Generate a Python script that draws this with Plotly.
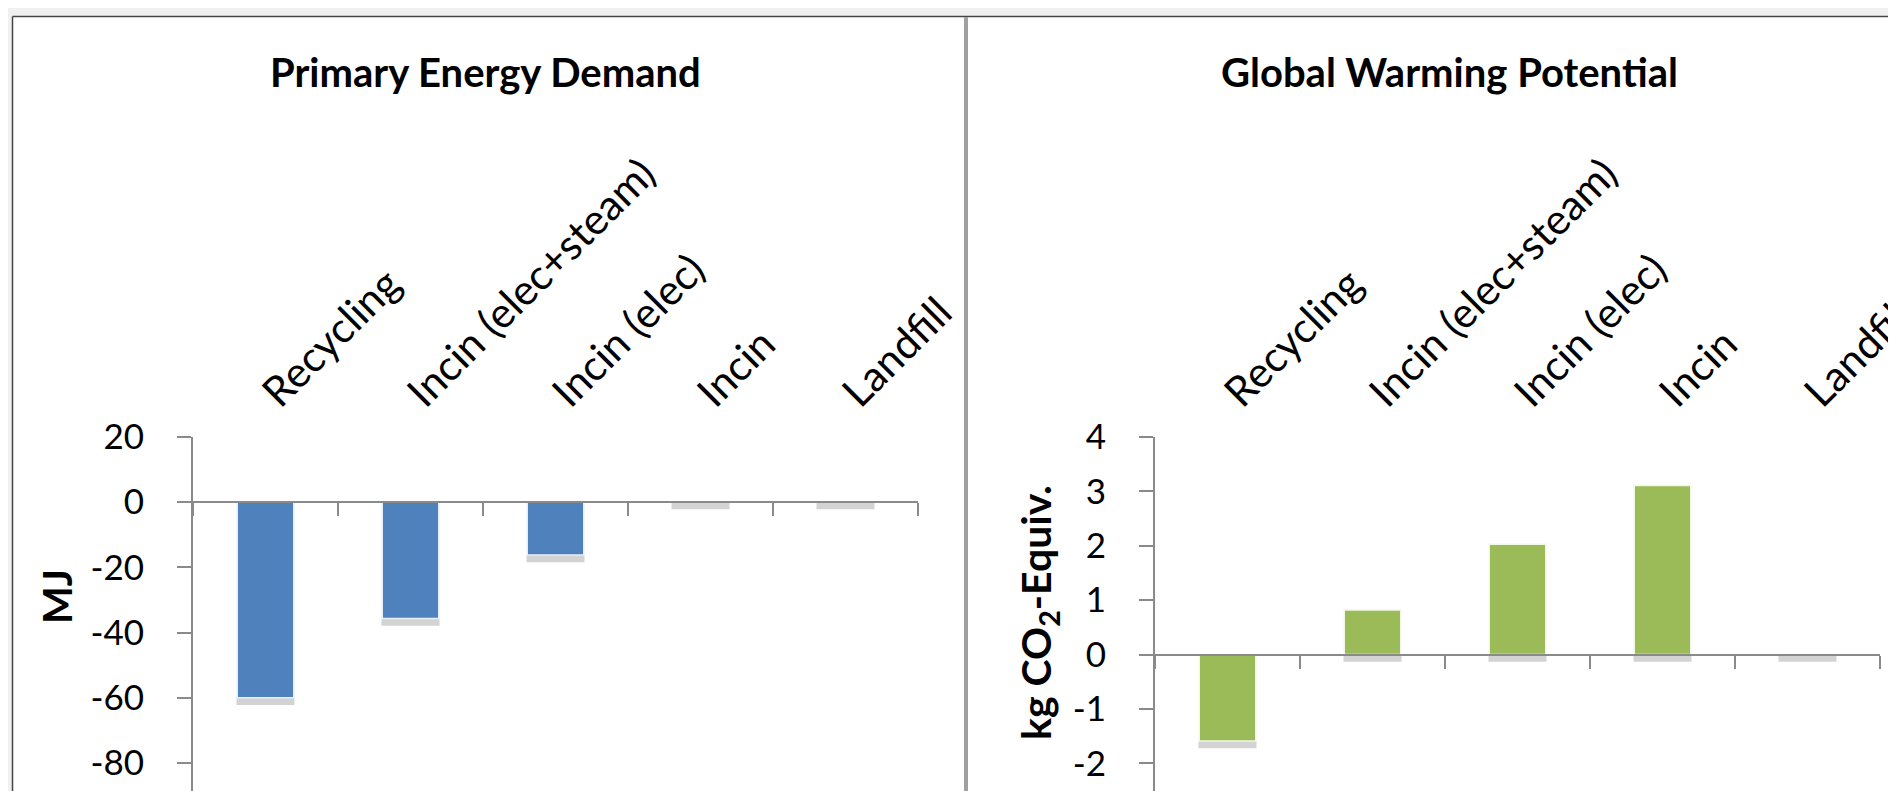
import plotly.graph_objects as go

# ---------------- data ----------------
categories = ["Recycling", "Incin (elec+steam)", "Incin (elec)", "Incin", "Landfill"]
ped_values = [-60.0, -35.7, -16.2, 0.0, 0.0]        # MJ
gwp_values = [-1.59, 0.82, 2.03, 3.11, 0.0]        # kg CO2-Equiv.
ped_ticks = [20, 0, -20, -40, -60, -80]
gwp_ticks = [4, 3, 2, 1, 0, -1, -2]

# ---------------- layout helpers ----------------
W, H = 1896, 791
def fx(px):
    return px / W
def fy(py):
    return 1 - py / H

FONT = "Lato"
BLUE = "#4F81BD"
GREEN = "#9BBB59"
AXIS = "#8a8a8a"

plot_top = 429
ped_range = [20 - (H - plot_top) / 3.26, 20]
gwp_range = [4 - (H - plot_top) / 54.4, 4]
ydom = [0, fy(plot_top)]

def zero_pos(r):
    return ydom[0] + (0 - r[0]) / (r[1] - r[0]) * (ydom[1] - ydom[0])

left_dom = [fx(185), fx(910)]
right_dom = [fx(1147), fx(1872)]

ped_sh = 2.2   # drop-shadow depth (data units)
gwp_sh = 0.13

fig = go.Figure()

# drop shadows (main subplots, drawn beneath the bars)
fig.add_trace(go.Bar(
    x=categories, y=[ped_sh] * len(ped_values),
    base=[min(v, 0) - ped_sh for v in ped_values],
    marker=dict(color="rgba(150,150,150,0.42)", line=dict(width=0)),
    width=0.4, xaxis="x", yaxis="y", hoverinfo="skip"))
fig.add_trace(go.Bar(
    x=categories, y=[gwp_sh] * len(gwp_values),
    base=[min(v, 0) - gwp_sh for v in gwp_values],
    marker=dict(color="rgba(150,150,150,0.42)", line=dict(width=0)),
    width=0.4, xaxis="x2", yaxis="y2", hoverinfo="skip"))

# bars
fig.add_trace(go.Bar(
    x=categories, y=ped_values,
    marker=dict(color=BLUE, line=dict(color="#e8f0fa", width=1.5)),
    width=0.39, xaxis="x3", yaxis="y"))
fig.add_trace(go.Bar(
    x=categories, y=gwp_values,
    marker=dict(color=GREEN, line=dict(color="#f2f8e6", width=1.5)),
    width=0.39, xaxis="x4", yaxis="y2"))

tickfont = dict(family=FONT, size=35, color="#000000")
catfont = dict(family=FONT, size=42, color="#000000")

def top_axis(dom, anchor):
    return dict(domain=dom, anchor=anchor, side="top", type="category",
                categoryorder="array", categoryarray=categories,
                range=[-0.5, 4.5], tickangle=-45, ticks="", showline=False,
                showgrid=False, zeroline=False, tickfont=catfont,
                automargin=False, fixedrange=True, ticklabelstandoff=12)

def zero_axis(overlay, yr):
    return dict(overlaying=overlay, anchor="free", position=zero_pos(yr),
                type="category", categoryorder="array", categoryarray=categories,
                range=[-0.5, 4.5], tickson="boundaries", ticks="outside",
                ticklen=13, tickwidth=2, tickcolor=AXIS, showline=True,
                linecolor=AXIS, linewidth=2, showticklabels=False,
                showgrid=False, zeroline=False, automargin=False, fixedrange=True)

def y_axis(dom, anchor, r, tv):
    return dict(domain=dom, anchor=anchor, range=r, tickvals=tv,
                ticktext=[str(t) for t in tv], ticks="outside", ticklen=14,
                tickwidth=2, tickcolor=AXIS, showline=True, linecolor=AXIS,
                linewidth=2, showgrid=False, zeroline=False, tickfont=tickfont,
                automargin=False, fixedrange=True, ticklabelstandoff=26)

fig.update_layout(
    width=W, height=H, margin=dict(l=0, r=0, t=0, b=0, pad=0),
    paper_bgcolor="#f0f0f0", plot_bgcolor="rgba(0,0,0,0)",
    showlegend=False, barmode="overlay", template="none",
    xaxis=top_axis(left_dom, "y"),
    xaxis2=top_axis(right_dom, "y2"),
    xaxis3=zero_axis("x", ped_range),
    xaxis4=zero_axis("x2", gwp_range),
    yaxis=y_axis(ydom, "x", ped_range, ped_ticks),
    yaxis2=y_axis(ydom, "x2", gwp_range, gwp_ticks),
    shapes=[
        dict(type="rect", xref="paper", yref="paper", x0=fx(5), x1=1.01,
             y0=-0.01, y1=fy(9), fillcolor="white", line=dict(width=0), layer="below"),
        dict(type="line", xref="paper", yref="paper", x0=fx(4.5), x1=1.01,
             y0=fy(8.5), y1=fy(8.5), line=dict(color="#454545", width=1.5)),
        dict(type="line", xref="paper", yref="paper", x0=fx(4.5), x1=fx(4.5),
             y0=-0.01, y1=fy(8.5), line=dict(color="#454545", width=1.5)),
        dict(type="line", xref="paper", yref="paper", x0=fx(958), x1=fx(958),
             y0=-0.01, y1=fy(9), line=dict(color="#a0a0a0", width=4)),
    ],
    annotations=[
        dict(text="<b>Primary Energy Demand</b>", xref="paper", yref="paper",
             x=fx(478), y=fy(64), showarrow=False, xanchor="center", yanchor="middle",
             font=dict(family=FONT, size=40, color="#000000")),
        dict(text="<b>Global Warming Potential</b>", xref="paper", yref="paper",
             x=fx(1441), y=fy(64), showarrow=False, xanchor="center", yanchor="middle",
             font=dict(family=FONT, size=40, color="#000000")),
        dict(text="<b>MJ</b>", xref="paper", yref="paper", x=fx(49), y=fy(589),
             showarrow=False, textangle=-90, xanchor="center", yanchor="middle",
             font=dict(family=FONT, size=40, color="#000000")),
        dict(text="<b>kg CO<sub>2</sub>-Equiv.</b>", xref="paper", yref="paper",
             x=fx(1030), y=fy(605), showarrow=False, textangle=-90,
             xanchor="center", yanchor="middle",
             font=dict(family=FONT, size=41, color="#000000")),
    ],
)

fig.write_html("out.html")
